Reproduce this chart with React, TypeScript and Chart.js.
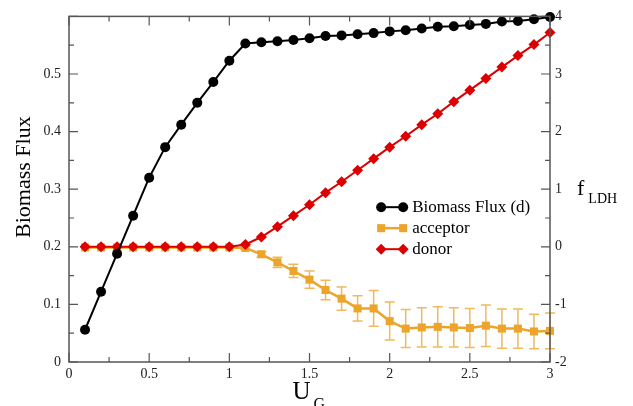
import React, { useEffect, useRef } from 'react';
import { Chart, registerables } from 'chart.js';

Chart.register(...registerables);

const uG = [0.1, 0.2, 0.3, 0.4, 0.5, 0.6, 0.7, 0.8, 0.9, 1.0, 1.1, 1.2, 1.3, 1.4, 1.5, 1.6, 1.7, 1.8, 1.9, 2.0, 2.1, 2.2, 2.3, 2.4, 2.5, 2.6, 2.7, 2.8, 2.9, 3.0];
const biomassFlux = [0.056, 0.122, 0.188, 0.254, 0.320, 0.373, 0.412, 0.450, 0.486, 0.523, 0.553, 0.555, 0.557, 0.559, 0.562, 0.566, 0.567, 0.569, 0.571, 0.574, 0.576, 0.579, 0.582, 0.583, 0.585, 0.587, 0.591, 0.592, 0.595, 0.599];
const donor = [0, 0, 0, 0, 0, 0, 0, 0, 0, 0, 0.04, 0.17, 0.35, 0.54, 0.73, 0.94, 1.13, 1.33, 1.53, 1.73, 1.92, 2.12, 2.31, 2.52, 2.72, 2.92, 3.12, 3.32, 3.51, 3.72];
const acceptor = [-0.01, -0.01, -0.01, -0.01, -0.01, -0.01, -0.01, -0.01, -0.01, -0.01, -0.02, -0.13, -0.27, -0.42, -0.57, -0.75, -0.90, -1.07, -1.07, -1.29, -1.42, -1.40, -1.39, -1.40, -1.41, -1.37, -1.42, -1.42, -1.47, -1.46];
const acceptorErr = [0, 0, 0, 0, 0, 0, 0, 0, 0, 0, 0.03, 0.05, 0.09, 0.115, 0.15, 0.17, 0.2, 0.22, 0.31, 0.33, 0.33, 0.34, 0.35, 0.34, 0.34, 0.36, 0.34, 0.34, 0.30, 0.31];

const legendLabels = ['Biomass Flux (d)', 'acceptor', 'donor'];
const leftAxisTitle = 'Biomass Flux';
const xAxisTitle = ['U', 'G'];
const rightAxisTitle = ['f', 'LDH'];

const BLACK = '#000000';
const RED = '#dd0000';
const ORANGE = '#eca52a';
const ORANGE_ERR = '#f0b95e';
const AXIS = '#555555';
const LABEL = '#222222';
const SERIF = '"Liberation Serif", "DejaVu Serif", serif';

function fmt(v: number) {
  return String(Number(v.toFixed(2)));
}

function drawMarker(ctx: CanvasRenderingContext2D, style: string, x: number, y: number, r: number) {
  ctx.beginPath();
  if (style === 'circle') {
    ctx.arc(x, y, r, 0, Math.PI * 2);
  } else if (style === 'rect') {
    const s = Math.SQRT1_2 * r;
    ctx.rect(x - s, y - s, 2 * s, 2 * s);
  } else {
    ctx.moveTo(x, y - r);
    ctx.lineTo(x + r, y);
    ctx.lineTo(x, y + r);
    ctx.lineTo(x - r, y);
    ctx.closePath();
  }
  ctx.fill();
}

const decorPlugin = {
  id: 'decor',
  beforeDatasetsDraw(chart: any) {
    const ctx = chart.ctx;
    const xs = chart.scales.x;
    const ys = chart.scales.y2;
    ctx.save();
    ctx.strokeStyle = ORANGE_ERR;
    ctx.lineWidth = 1.5;
    uG.forEach((u, i) => {
      const e = acceptorErr[i];
      if (!e) return;
      const px = xs.getPixelForValue(u);
      const top = ys.getPixelForValue(acceptor[i] + e);
      const bot = ys.getPixelForValue(acceptor[i] - e);
      ctx.beginPath();
      ctx.moveTo(px, top);
      ctx.lineTo(px, bot);
      ctx.moveTo(px - 5, top);
      ctx.lineTo(px + 5, top);
      ctx.moveTo(px - 5, bot);
      ctx.lineTo(px + 5, bot);
      ctx.stroke();
    });
    ctx.restore();
  },
  afterDatasetsDraw(chart: any) {
    const ctx = chart.ctx;
    const a = chart.chartArea;
    const xs = chart.scales.x;
    const yl = chart.scales.y;
    const yr = chart.scales.y2;
    ctx.save();
    ctx.strokeStyle = AXIS;
    ctx.lineWidth = 1.5;
    ctx.strokeRect(a.left, a.top, a.right - a.left, a.bottom - a.top);
    ctx.lineWidth = 1.2;
    ctx.beginPath();
    for (let k = 0; k <= 12; k++) {
      const v = k * 0.25;
      const len = k % 2 === 0 ? 9 : 5;
      const px = xs.getPixelForValue(v);
      ctx.moveTo(px, a.bottom);
      ctx.lineTo(px, a.bottom - len);
      ctx.moveTo(px, a.top);
      ctx.lineTo(px, a.top + len);
    }
    for (let k = 0; k <= 12; k++) {
      const v = k * 0.05;
      const len = k % 2 === 0 ? 9 : 5;
      const py = yl.getPixelForValue(v);
      ctx.moveTo(a.left, py);
      ctx.lineTo(a.left + len, py);
    }
    for (let k = 0; k <= 12; k++) {
      const v = -2 + k * 0.5;
      const len = k % 2 === 0 ? 9 : 5;
      const py = yr.getPixelForValue(v);
      ctx.moveTo(a.right, py);
      ctx.lineTo(a.right - len, py);
    }
    ctx.stroke();
    ctx.restore();
  },
  afterDraw(chart: any) {
    const ctx = chart.ctx;
    const a = chart.chartArea;
    const w = a.right - a.left;
    const h = a.bottom - a.top;
    ctx.save();
    ctx.fillStyle = '#000';
    // left title
    ctx.save();
    ctx.translate(a.left - 45, a.top + h * 0.465);
    ctx.rotate(-Math.PI / 2);
    ctx.font = `22px ${SERIF}`;
    ctx.textAlign = 'center';
    ctx.textBaseline = 'middle';
    ctx.fillText(leftAxisTitle, 0, 0);
    ctx.restore();
    // x title
    ctx.textBaseline = 'alphabetic';
    ctx.textAlign = 'left';
    ctx.font = `25px ${SERIF}`;
    const uw = ctx.measureText(xAxisTitle[0]).width;
    const ux = a.left + w / 2 - 17;
    ctx.fillText(xAxisTitle[0], ux, a.bottom + 37);
    ctx.font = `16px ${SERIF}`;
    ctx.fillText(xAxisTitle[1], ux + uw + 3, a.bottom + 47);
    // right title
    ctx.font = `22px ${SERIF}`;
    const fx = a.right + 27;
    ctx.fillText(rightAxisTitle[0], fx, a.top + 179);
    const fw = ctx.measureText(rightAxisTitle[0]).width;
    ctx.font = `14px ${SERIF}`;
    ctx.fillText(rightAxisTitle[1], fx + fw + 4, a.top + 187);
    // legend
    const ds = chart.data.datasets;
    const order = [0, 2, 1];
    const lx0 = a.left + w * 0.649;
    const lx1 = lx0 + 22;
    const ly0 = a.top + h * 0.552;
    const gap = 21;
    order.forEach((di, row) => {
      const d = ds[di];
      const y = ly0 + row * gap;
      ctx.strokeStyle = d.borderColor;
      ctx.lineWidth = d.borderWidth;
      ctx.beginPath();
      ctx.moveTo(lx0, y);
      ctx.lineTo(lx1, y);
      ctx.stroke();
      ctx.fillStyle = d.pointBackgroundColor;
      drawMarker(ctx, d.pointStyle, lx0, y, d.pointRadius);
      drawMarker(ctx, d.pointStyle, lx1, y, d.pointRadius);
      ctx.fillStyle = '#000';
      ctx.font = `17px ${SERIF}`;
      ctx.textBaseline = 'middle';
      ctx.textAlign = 'left';
      ctx.fillText(legendLabels[row], lx1 + 9, y);
    });
    ctx.restore();
  },
};

export default function App() {
  const ref = useRef<HTMLCanvasElement | null>(null);
  useEffect(() => {
    if (!ref.current) return;
    const chart = new Chart(ref.current, {
      type: 'line',
      data: {
        datasets: [
          {
            label: legendLabels[0],
            data: uG.map((x, i) => ({ x, y: biomassFlux[i] })),
            yAxisID: 'y',
            borderColor: BLACK,
            borderWidth: 2,
            pointStyle: 'circle',
            pointRadius: 5,
            pointBackgroundColor: BLACK,
            pointBorderWidth: 0,
            clip: false,
          } as any,
          {
            label: legendLabels[2],
            data: uG.map((x, i) => ({ x, y: donor[i] })),
            yAxisID: 'y2',
            borderColor: RED,
            borderWidth: 2,
            pointStyle: 'rectRot',
            pointRadius: 5.5,
            pointBackgroundColor: RED,
            pointBorderWidth: 0,
            clip: false,
          } as any,
          {
            label: legendLabels[1],
            data: uG.map((x, i) => ({ x, y: acceptor[i] })),
            yAxisID: 'y2',
            borderColor: ORANGE,
            borderWidth: 2.5,
            pointStyle: 'rect',
            pointRadius: 5.7,
            pointBackgroundColor: ORANGE,
            pointBorderWidth: 0,
            clip: false,
          } as any,
        ],
      },
      options: {
        responsive: false,
        animation: false,
        layout: { padding: { top: 14, left: 0, right: 0, bottom: 0 } },
        plugins: { legend: { display: false }, tooltip: { enabled: false } },
        elements: { line: { tension: 0 } },
        scales: {
          x: {
            type: 'linear',
            min: 0,
            max: 3,
            grid: { display: false, drawTicks: false },
            border: { display: false },
            ticks: {
              stepSize: 0.5,
              padding: 4,
              color: LABEL,
              font: { family: SERIF, size: 14 },
              callback: (v: any) => fmt(Number(v)),
              maxRotation: 0,
            },
            afterFit: (s: any) => { s.height = 44; },
          },
          y: {
            type: 'linear',
            position: 'left',
            min: 0,
            max: 0.6,
            grid: { display: false, drawTicks: false },
            border: { display: false },
            ticks: {
              stepSize: 0.1,
              padding: 8,
              color: LABEL,
              font: { family: SERIF, size: 14 },
              callback: (v: any) => (Number(v) > 0.55 ? '' : fmt(Number(v))),
            },
            afterFit: (s: any) => { s.width = 69; },
          },
          y2: {
            type: 'linear',
            position: 'right',
            min: -2,
            max: 4,
            grid: { display: false, drawTicks: false },
            border: { display: false },
            ticks: {
              stepSize: 1,
              padding: 5,
              color: LABEL,
              font: { family: SERIF, size: 14 },
              callback: (v: any) => fmt(Number(v)),
            },
            afterFit: (s: any) => { s.width = 83; },
          },
        },
      } as any,
      plugins: [decorPlugin as any],
    });
    return () => chart.destroy();
  }, []);
  return (
    <div style={{ position: 'fixed', left: 0, top: 0, width: 633, height: 406, background: '#fff' }}>
      <canvas ref={ref} width={633} height={406} style={{ display: 'block' }} />
    </div>
  );
}
